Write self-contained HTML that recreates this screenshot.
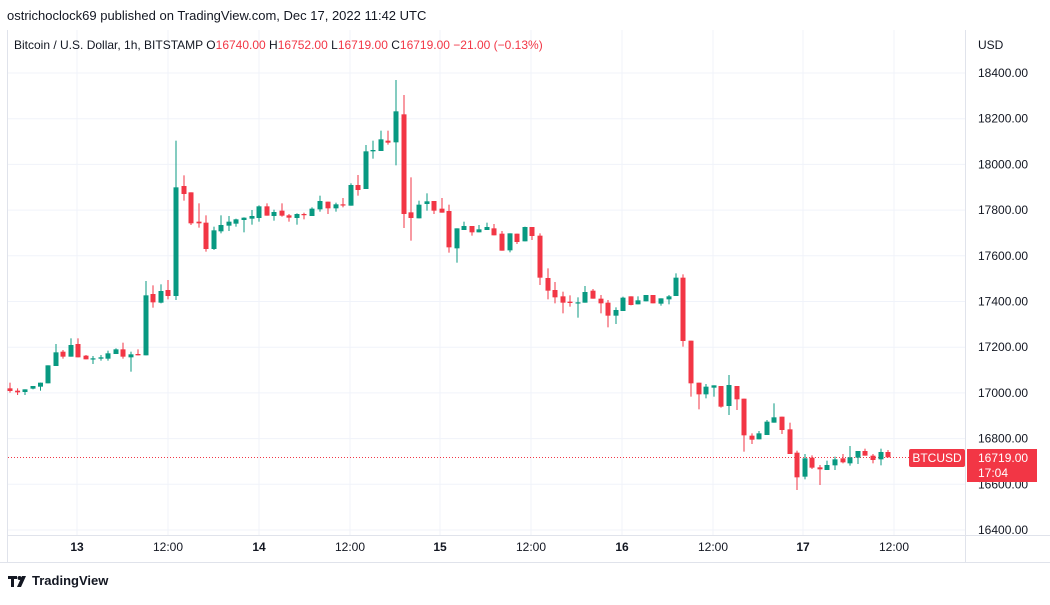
<!DOCTYPE html>
<html><head><meta charset="utf-8"><style>
html,body{margin:0;padding:0;background:#fff;}
body{width:1050px;height:600px;overflow:hidden;font-family:"Liberation Sans",sans-serif;}
</style></head><body>
<svg id="s" width="1050" height="600" xmlns="http://www.w3.org/2000/svg" font-family="Liberation Sans, sans-serif">
<rect width="1050" height="600" fill="#fff"/>
<g id="grid" stroke="#f0f3fa" stroke-width="1"></g>
<line x1="7.5" y1="30" x2="7.5" y2="562" stroke="#e0e3eb"/>
<line x1="965.5" y1="30" x2="965.5" y2="562" stroke="#e0e3eb"/>
<line x1="7" y1="535.5" x2="1050" y2="535.5" stroke="#e0e3eb"/>
<line x1="0" y1="562.5" x2="1050" y2="562.5" stroke="#e0e3eb"/>
<line x1="8" y1="457.5" x2="965" y2="457.5" stroke="#f23645" stroke-width="1" stroke-dasharray="1,2"/>
<g id="c"></g>
<text x="7" y="20" font-size="13" fill="#131722">ostrichoclock69 published on TradingView.com, Dec 17, 2022 11:42 UTC</text>
<text x="14" y="49" font-size="12" fill="#131722">Bitcoin / U.S. Dollar, 1h, BITSTAMP  <tspan fill="#131722">O</tspan><tspan fill="#f23645">16740.00</tspan> <tspan>H</tspan><tspan fill="#f23645">16752.00</tspan> <tspan>L</tspan><tspan fill="#f23645">16719.00</tspan> <tspan>C</tspan><tspan fill="#f23645">16719.00</tspan> <tspan fill="#f23645">−21.00 (−0.13%)</tspan></text>
<text x="978" y="49" font-size="12" fill="#131722">USD</text>
<g id="py" font-size="12" fill="#131722"></g>
<g id="tx" font-size="12" fill="#131722" text-anchor="middle"></g>
<rect x="909" y="449" width="56" height="18" rx="2" fill="#f23645"/>
<text x="937" y="462" font-size="12" fill="#fff" text-anchor="middle">BTCUSD</text>
<rect x="967" y="449" width="70" height="33" fill="#f23645"/>
<text x="978" y="462" font-size="12" fill="#fff">16719.00</text>
<text x="978" y="477" font-size="12" fill="#fff">17:04</text>
<g transform="translate(8,574)" fill="#131722">
<path d="M0 2h9v3H6v8H3V5H0z"/><circle cx="11.5" cy="4" r="2"/><path d="M14 2h4l-5 11H9z"/>
</g>
<text x="32" y="585" font-size="13" font-weight="bold" fill="#131722">TradingView</text>
</svg>
<script>
var NS="http://www.w3.org/2000/svg";
function el(p,n,a,t){var e=document.createElementNS(NS,n);for(var k in a)e.setAttribute(k,a[k]);if(t!==undefined)e.textContent=t;document.getElementById(p).appendChild(e);}
for(var i=0;i<11;i++){var y=73+i*45.7;el("grid","line",{x1:8,x2:965,y1:y,y2:y});el("py","text",{x:978,y:y+4},(18400-i*200).toFixed(2));}
var tl=[[77,"13"],[168,"12:00"],[259,"14"],[350,"12:00"],[440,"15"],[531,"12:00"],[622,"16"],[713,"12:00"],[803,"17"],[894,"12:00"]];
tl.forEach(function(t){el("grid","line",{x1:t[0],x2:t[0],y1:30,y2:535});el("tx","text",{x:t[0],y:551,"font-weight":(t[1].indexOf(":")<0?"bold":"normal")},t[1]);});
// [x,color,bodyTop,bodyBot,wickTop,wickBot] in zoom units; base 70 or 260
var A=[[10,"r",955,963,938,968],[17.6,"r",962,967,955,975],[25,"g",958,966,958,975],[33,"g",948,956,948,958],[40.5,"g",938,950,938,962],[48,"g",886,940,886,940],[56,"g",847,888,822,888],[63,"r",845,860,840,866],[71,"g",825,860,805,860],[78,"r",822,862,805,862],[86,"r",857,868,855,868],[93,"g",865,868,858,882],[101,"g",862,866,855,872],[108,"g",850,866,842,872],[116,"g",838,852,835,852],[123,"r",838,860,818,866],[131,"g",853,862,845,905],[138,"r",852,856,838,856],[146,"g",676,856,633,856],[153,"r",672,697,646,713],[161,"g",663,698,643,700],[168,"r",660,678,630,688],[176,"g",352,678,212,690],[184,"r",348,372,316,392],[191,"r",367,460,367,465],[199,"r",455,460,400,473],[206,"r",458,537,436,545],[214,"g",481,537,470,540],[221,"g",465,484,436,490],[229,"g",455,467,438,483],[236,"g",448,461,446,470],[244,"g",443,450,442,487],[252,"g",438,446,420,464],[259,"g",409,444,406,455],[267,"r",409,437,400,437],[274,"g",426,438,419,452],[282,"r",422,437,400,440],[289,"r",436,443,432,455],[297,"g",432,444,430,464],[304,"r",432,434,428,448],[312,"g",416,438,412,438]];
var B=[[320,"g",393,418,377,425],[328,"r",395,415,395,432],[336,"g",403,415,398,425],[343,"r",403,406,384,412],[351,"g",345,407,340,407],[358,"r",345,360,315,377],[366,"g",244,357,225,357],[373,"g",240,244,212,266],[381,"g",208,243,182,243],[388,"r",212,218,182,224],[396,"g",124,217,30,286],[404,"r",133,432,75,474],[411,"r",427,444,322,512],[419,"g",404,445,392,445],[427,"g",394,402,370,422],[434,"r",393,422,393,432],[442,"r",416,428,384,428],[449,"r",423,532,404,548],[457,"g",475,535,475,578],[464,"g",468,480,455,480],[472,"r",468,487,468,497],[479,"g",478,487,465,487],[487,"g",471,480,458,480],[494,"r",475,496,462,496],[502,"r",491,542,483,542],[510,"g",490,541,490,547],[517,"r",491,516,491,522],[525,"g",471,514,470,514],[532,"r",471,498,471,510],[540,"r",497,623,490,645],[548,"r",624,662,595,688],[555,"r",660,682,636,700],[563,"r",679,698,665,730],[570,"r",695,699,676,710],[578,"g",697,700,682,743],[585,"g",666,698,648,698],[593,"r",662,686,657,686],[601,"r",686,700,675,730],[608,"r",698,737,690,772],[616,"g",720,737,712,762],[623,"g",683,723,680,723],[631,"r",679,705,679,706],[638,"g",691,703,679,703]];
var C=[[646,"g",105,124,105,124],[653,"r",105,130,105,130],[661,"g",115,131,115,137],[669,"g",109,118,105,133],[676,"g",53,108,40,108],[683,"r",53,243,43,260],[691,"r",242,370,242,410],[699,"r",368,403,368,448],[706,"g",380,403,372,415],[714,"g",376,383,376,410],[721,"r",378,440,378,443],[729,"g",375,438,345,465],[737,"r",378,418,378,450],[744,"r",416,526,416,575],[752,"r",527,539,520,552],[759,"g",520,538,513,538],[767,"g",485,525,480,525],[774,"g",472,488,430,488],[782,"r",470,510,470,522],[790,"r",508,582,488,582],[797,"r",578,652,572,690],[805,"g",595,650,582,658],[812,"r",593,623,586,627],[820,"r",622,628,615,675],[827,"g",615,630,602,630],[835,"g",598,616,590,630],[843,"r",595,607,582,610],[850,"g",592,610,558,617],[858,"g",573,593,573,612],[865,"r",573,587,566,587],[873,"r",587,600,582,610],[881,"g",576,598,566,616],[888,"r",576,592,570,592]];
function draw(arr,base){arr.forEach(function(d){var col=d[1]=="g"?"#089981":"#f23645";var bt=base+d[2]/3,bb=base+d[3]/3,wt=base+d[4]/3,wb=base+d[5]/3;
el("c","rect",{x:d[0]-0.5,y:wt,width:1,height:Math.max(wb-wt,1),fill:col});
el("c","rect",{x:d[0]-2.5,y:bt,width:5,height:Math.max(bb-bt,1.2),fill:col});});}
draw(A,70);draw(B,70);draw(C,260);
</script>
</body></html>
